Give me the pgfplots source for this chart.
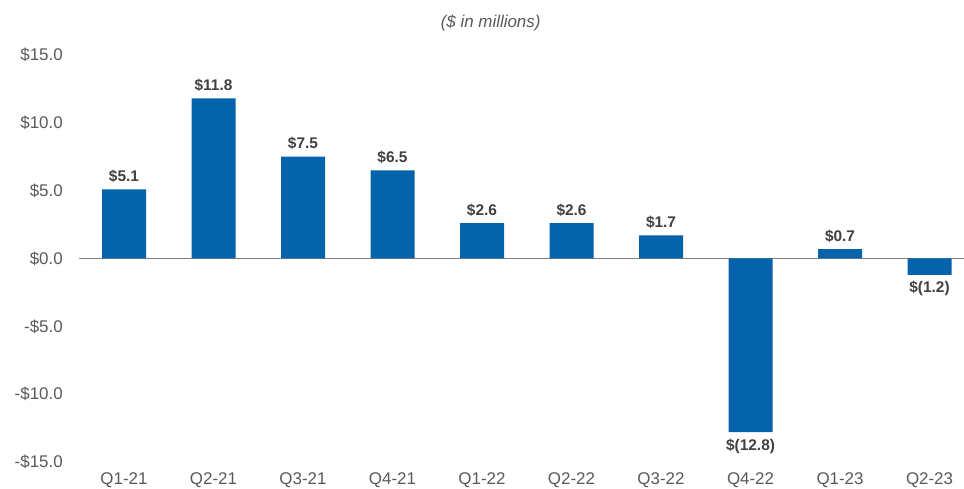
\documentclass[border=0pt]{standalone}
\usepackage{pgfplots}
\pgfplotsset{compat=1.18}
\usepackage{fontspec}
\setmainfont{Liberation Sans}
\definecolor{barblue}{RGB}{4,99,170}
\definecolor{ticktext}{RGB}{89,89,89}
\definecolor{labtext}{RGB}{64,64,64}
\definecolor{zeroline}{RGB}{128,128,128}
\begin{document}
\begin{tikzpicture}
\begin{axis}[
    name=ax,
    ybar,
    bar width=44bp,
    width=884.75bp, height=407bp,
    scale only axis,
    xmin=-0.5, xmax=9.385,
    ymin=-15, ymax=15,
    axis line style={draw=none},
    tick style={draw=none},
    xtick=data,
    xticklabels={Q1-21,Q2-21,Q3-21,Q4-21,Q1-22,Q2-22,Q3-22,Q4-22,Q1-23,Q2-23},
    ytick={-15,-10,...,15},
    yticklabels={-\$15.0,-\$10.0,-\$5.0,\$0.0,\$5.0,\$10.0,\$15.0},
    extra y ticks={0},
    extra y tick labels={},
    extra y tick style={grid=major, major grid style={draw=zeroline, line width=1.3bp}},
    ticklabel style={font=\fontsize{17}{20}\selectfont, text=ticktext},
    yticklabel style={xshift=-13bp},
    xticklabel style={yshift=-3bp},
    title={\itshape (\$ in millions)},
    title style={at={(0.465,1)}, anchor=center, yshift=26bp,
                 font=\fontsize{17}{20}\selectfont, text=ticktext},
    point meta=explicit symbolic,
    visualization depends on={y \as \rawy},
    nodes near coords,
    every node near coord/.append style={font=\bfseries\fontsize{15.5}{18}\selectfont,
                 text=labtext, inner sep=6.5bp,
                 anchor=\ifdim\rawy pt<0pt north\else south\fi},
    clip=false,
]
\addplot [draw=none, fill=barblue] coordinates {
    (0, 5.1)   [\$5.1]
    (1, 11.8)  [\$11.8]
    (2, 7.5)   [\$7.5]
    (3, 6.5)   [\$6.5]
    (4, 2.6)   [\$2.6]
    (5, 2.6)   [\$2.6]
    (6, 1.7)   [\$1.7]
    (7, -12.8) [\$(12.8)]
    (8, 0.7)   [\$0.7]
    (9, -1.2)  [\$(1.2)]
};
\end{axis}
\pgfresetboundingbox
\path ([xshift=-79.25bp,yshift=-27bp]ax.south west) rectangle ([yshift=55bp]ax.north east);
\end{tikzpicture}
\end{document}
